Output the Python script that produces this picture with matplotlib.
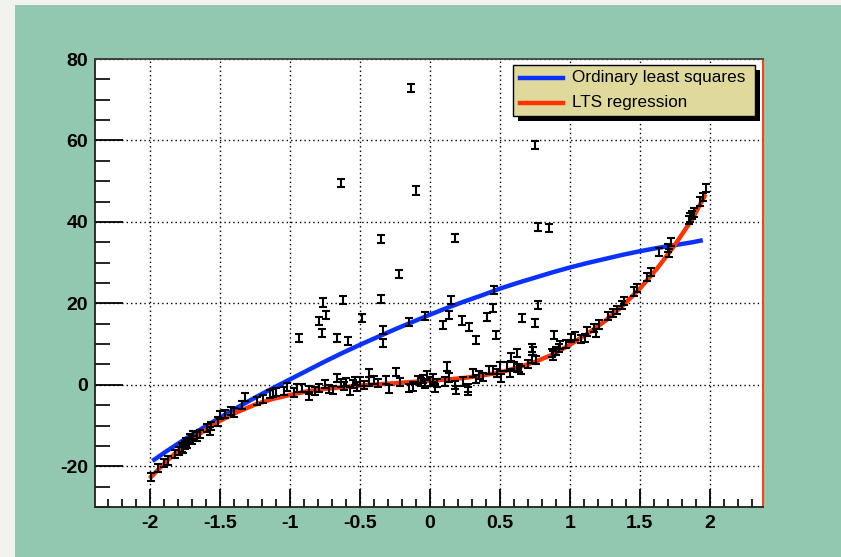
import numpy as np
import matplotlib
matplotlib.use("Agg")
import matplotlib.pyplot as plt
from matplotlib.patches import Rectangle
from matplotlib.lines import Line2D
from matplotlib.ticker import MultipleLocator

# ---------------- data ----------------
good_x = [-1.99, -1.94, -1.90, -1.87, -1.82, -1.79, -1.77, -1.76, -1.75, -1.74, -1.73, -1.71, -1.70,
          -1.69, -1.66, -1.64, -1.59, -1.57, -1.56, -1.51, -1.50, -1.46, -1.42, -1.40, -1.34, -1.32,
          -1.23, -1.19, -1.14, -1.12, -1.10, -1.04, -1.02, -0.97, -0.95, -0.91, -0.86, -0.86, -0.82,
          -0.79, -0.75, -0.72, -0.69, -0.66, -0.63, -0.61, -0.60, -0.57, -0.55, -0.53, -0.52, -0.50,
          -0.47, -0.43, -0.43, -0.40, -0.37, -0.31, -0.29, -0.24, -0.21, -0.15, -0.12, -0.08, -0.06,
          -0.05, -0.03, -0.02, 0.00, 0.02, 0.04, 0.05, 0.11, 0.12, 0.14, 0.18, 0.19, 0.24, 0.27, 0.27,
          0.31, 0.33, 0.35, 0.38, 0.42, 0.45, 0.48, 0.50, 0.51, 0.55, 0.57, 0.58, 0.60, 0.62, 0.62,
          0.64, 0.65, 0.70, 0.73, 0.74, 0.76, 0.87, 0.88, 0.90, 0.92, 0.93, 0.97, 1.01, 1.04, 1.08,
          1.11, 1.12, 1.17, 1.19, 1.21, 1.27, 1.31, 1.34, 1.37, 1.39, 1.46, 1.48, 1.55, 1.58, 1.64,
          1.70, 1.71, 1.72, 1.85, 1.86, 1.87, 1.89, 1.93, 1.95, 1.97]
good_y = [-22.7, -20.5, -19.3, -18.6, -17.0, -16.2, -15.4, -15.8, -14.7, -14.0, -14.4, -13.1, -13.6,
          -12.3, -12.7, -12.0, -10.6, -11.4, -10.2, -9.0, -7.4, -7.2, -6.5, -6.8, -4.9, -2.9,
          -3.9, -3.4, -2.3, -2.0, -1.8, -1.6, -0.6, -1.9, -0.8, -0.8, -2.7, -1.2, -1.5,
          -0.8, 0.2, -1.0, -1.2, 1.6, 0.4, -0.3, 0.6, -1.6, 0.2, 1.0, -0.4, 0.8,
          0.0, 2.9, 0.8, 1.2, 0.4, 1.2, -1.0, 3.1, 0.6, -0.8, -0.4, 1.2, 0.6,
          1.4, 0.2, 2.5, 0.8, 1.6, -0.8, 0.4, 0.8, 4.5, 1.8, 0.0, -1.2, 0.8, -0.8, -1.6,
          2.9, 1.5, 2.5, 2.0, 3.7, 3.7, 2.8, 4.5, 1.6, 4.5, 2.9, 6.9, 4.5, 7.8, 4.1,
          4.1, 3.7, 5.2, 6.3, 8.2, 6.0, 7.8, 7.2, 8.2, 9.0, 9.8, 10.0, 11.5, 11.9, 11.2,
          11.5, 13.1, 13.9, 12.7, 14.8, 16.8, 17.6, 18.4, 19.6, 20.6, 22.9, 23.8, 26.4, 27.6, 32.7,
          33.5, 32.3, 35.0, 40.5, 41.1, 41.8, 42.3, 45.0, 46.2, 48.3]

out_x = [-0.13, 0.75, -0.63, -0.10, 0.77, 0.85, -0.35, 0.18, -0.22, -0.76, -0.62, -0.35, 0.155,
         0.46, 0.77, 0.45, -0.74, -0.93, -0.79, -0.77, -0.66, -0.58, -0.48, -0.33, -0.33, -0.15,
         -0.03, 0.095, 0.14, 0.23, 0.28, 0.33, 0.41, 0.47, 0.66, 0.75, 0.89, 0.73]
out_y = [72.8, 58.9, 49.6, 47.7, 38.8, 38.6, 35.8, 36.1, 27.2, 20.2, 20.9, 21.0, 20.9,
         23.2, 19.5, 18.9, 17.2, 11.5, 15.7, 12.8, 11.6, 10.8, 16.4, 13.5, 10.2, 15.4,
         16.9, 14.7, 17.2, 15.8, 14.3, 11.0, 16.6, 12.3, 16.4, 15.1, 12.3, 9.0]
err = 1.0

# fitted curves
lts_x = [-2.0, -1.875, -1.75, -1.625, -1.5, -1.375, -1.25, -1.125, -1.0, -0.875, -0.75, -0.625,
         -0.5, -0.375, -0.25, -0.125, 0.0, 0.125, 0.25, 0.375, 0.5, 0.625, 0.75, 0.875, 1.0,
         1.125, 1.25, 1.375, 1.5, 1.625, 1.75, 1.875, 1.97]
lts_y = [-23.0, -18.6, -14.8, -11.6, -8.9, -6.7, -4.9, -3.5, -2.5, -1.6, -1.0, -0.6,
         -0.2, 0.1, 0.4, 0.7, 1.0, 1.3, 1.7, 2.3, 3.0, 4.2, 5.6, 7.4, 9.8,
         12.5, 15.6, 19.3, 23.6, 28.6, 34.3, 40.7, 46.8]
ols_x = [-1.98, -1.875, -1.75, -1.625, -1.5, -1.375, -1.25, -1.125, -1.0, -0.875, -0.75, -0.625,
         -0.5, -0.375, -0.25, -0.125, 0.0, 0.125, 0.25, 0.375, 0.5, 0.625, 0.75, 0.875, 1.0,
         1.125, 1.25, 1.375, 1.5, 1.625, 1.75, 1.875, 1.95]
ols_y = [-18.7, -16.2, -13.4, -10.7, -8.1, -5.6, -3.2, -0.9, 1.3, 3.5, 5.7, 7.8,
         9.8, 11.7, 13.6, 15.4, 17.2, 18.9, 20.5, 22.0, 23.6, 25.0, 26.3, 27.6, 28.8,
         29.9, 30.9, 31.9, 32.8, 33.6, 34.3, 35.0, 35.5]

legend_labels = ["Ordinary least squares", "LTS regression"]
x_ticks = [-2, -1.5, -1, -0.5, 0, 0.5, 1, 1.5, 2]
y_ticks = [-20, 0, 20, 40, 60, 80]

# ---------------- figure ----------------
W, H = 841, 557
fig = plt.figure(figsize=(W / 100, H / 100), dpi=100, facecolor="#f2f2ee")
GREEN = "#92c8b0"
fig.patches.append(Rectangle((15 / W, 0), 1 - 15 / W, 1 - 5 / H, transform=fig.transFigure,
                             facecolor=GREEN, edgecolor="none", zorder=-5))

L, R, T, B = 95, 763, 59, 507
ax = fig.add_axes([L / W, 1 - B / H, (R - L) / W, (B - T) / H])
ax.set_zorder(1)
ax.set_facecolor("white")
ax.set_xlim(-2.39, 2.38)
ax.set_ylim(-30, 80)

BLUE = "#0a32ff"
RED = "#ff3300"
ax.plot(ols_x, ols_y, color=BLUE, lw=3.2, solid_capstyle="butt", zorder=3)
ax.plot(lts_x, lts_y, color=RED, lw=3.2, solid_capstyle="butt", zorder=3)

ax.errorbar(good_x, good_y, yerr=err, fmt="none", ecolor="black", elinewidth=1.5,
            capsize=3.0, capthick=1.5, zorder=4)
ax.errorbar(out_x, out_y, yerr=err, fmt="none", ecolor="black", elinewidth=1.5,
            capsize=3.0, capthick=1.5, zorder=4)

# axes styling (ROOT-like)
ax.set_xticks(x_ticks)
ax.set_xticklabels([f"{t:g}" for t in x_ticks])
ax.set_yticks(y_ticks)
ax.set_yticklabels([f"{t:g}" for t in y_ticks])
ax.xaxis.set_minor_locator(MultipleLocator(0.1))
ax.yaxis.set_minor_locator(MultipleLocator(5))
ax.tick_params(axis="x", which="major", direction="in", length=13, width=1.3, pad=6,
               top=False, labelsize=14)
ax.tick_params(axis="x", which="minor", direction="in", length=6, width=1.2, top=False)
ax.tick_params(axis="y", which="major", direction="in", length=20, width=1.3, pad=5,
               right=False, labelsize=14)
ax.tick_params(axis="y", which="minor", direction="in", length=11, width=1.2, right=False)
for lab in ax.get_xticklabels() + ax.get_yticklabels():
    lab.set_fontfamily("Liberation Sans")
    lab.set_fontweight("bold")

ax.grid(True, which="major", color="black", lw=1.0, linestyle=(0, (1, 2.2)))
ax.set_axisbelow(True)
for s in ["left", "bottom"]:
    ax.spines[s].set_color("#222222")
    ax.spines[s].set_linewidth(1.3)
ax.spines["top"].set_color("#444444")
ax.spines["top"].set_linewidth(1.3)
ax.spines["right"].set_color(RED)
ax.spines["right"].set_linewidth(1.3)

# ---------------- legend (ROOT TLegend style) ----------------
def fx(px):
    return px / W

def fy(py):
    return 1 - py / H

lx0, ly0, lx1, ly1 = 513, 65, 755, 116
fig.patches.append(Rectangle((fx(lx0 + 5), fy(ly1 + 5)), fx(lx1 - lx0), (ly1 - ly0) / H,
                             transform=fig.transFigure, facecolor="black", edgecolor="none",
                             zorder=5))
fig.patches.append(Rectangle((fx(lx0), fy(ly1)), fx(lx1 - lx0), (ly1 - ly0) / H,
                             transform=fig.transFigure, facecolor="#e0d99c", edgecolor="black",
                             lw=1.0, zorder=6))
for yy, col, lab in [(77.5, BLUE, legend_labels[0]), (102.5, RED, legend_labels[1])]:
    fig.lines.append(Line2D([fx(520), fx(563)], [fy(yy), fy(yy)], transform=fig.transFigure,
                            color=col, lw=3.2, zorder=7))
    fig.text(fx(572), fy(yy), lab, fontsize=12.3, family="Liberation Sans", va="center",
             ha="left", color="black", zorder=8)

fig.savefig("out.png", dpi=100, facecolor=fig.get_facecolor())
